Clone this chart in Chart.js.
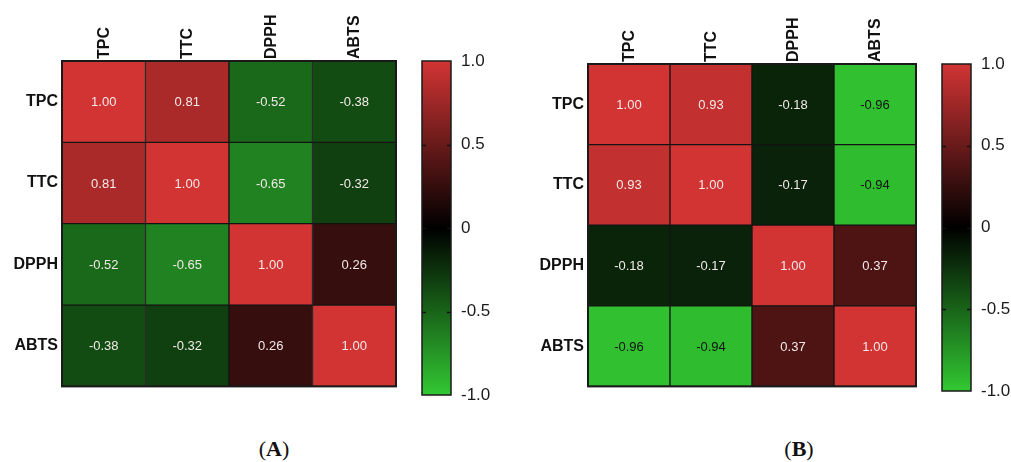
<!DOCTYPE html>
<html>
<head>
<meta charset="utf-8">
<script src="https://cdn.jsdelivr.net/npm/chart.js@4.4.1/dist/chart.umd.min.js"></script>
<style>
  html, body { margin: 0; padding: 0; background: #fff; }
  #wrap { position: relative; width: 1011px; height: 462px; overflow: hidden; }
  canvas { position: absolute; }
  .cap { position: absolute; top: 437px; width: 80px; text-align: center; line-height: 24px;
         font-family: "Liberation Serif", "DejaVu Serif", serif; font-size: 22px; color: #111; }
  .cap b { font-weight: bold; }
</style>
</head>
<body>
<div id="wrap">
  <canvas id="heatA" width="400" height="400" style="left:0;top:0"></canvas>
  <canvas id="barA" width="100" height="462" style="left:400px;top:0"></canvas>
  <canvas id="heatB" width="400" height="400" style="left:520px;top:0"></canvas>
  <canvas id="barB" width="91" height="462" style="left:920px;top:0"></canvas>
  <div class="cap" style="left:234px">(<b>A</b>)</div>
  <div class="cap" style="left:759px">(<b>B</b>)</div>
</div>
<script>
// ---- data ----
const variables = ["TPC", "TTC", "DPPH", "ABTS"];
// correlation matrix A (rows top->bottom, columns left->right)
const corrA_TPC  = [1.00, 0.81, -0.52, -0.38];
const corrA_TTC  = [0.81, 1.00, -0.65, -0.32];
const corrA_DPPH = [-0.52, -0.65, 1.00, 0.26];
const corrA_ABTS = [-0.38, -0.32, 0.26, 1.00];
// correlation matrix B
const corrB_TPC  = [1.00, 0.93, -0.18, -0.96];
const corrB_TTC  = [0.93, 1.00, -0.17, -0.94];
const corrB_DPPH = [-0.18, -0.17, 1.00, 0.37];
const corrB_ABTS = [-0.96, -0.94, 0.37, 1.00];
const colorbarTicks = [-1, -0.5, 0, 0.5, 1];
const colorbarTickLabels = ["-1.0", "-0.5", "0", "0.5", "1.0"];

// ---- colour map: green (-1) -> black (0) -> red (+1) ----
const RED = [210, 52, 52];
const GREEN = [50, 200, 50];
function corrColor(v) {
  const c = v >= 0 ? RED : GREEN;
  const a = Math.abs(v);
  return `rgb(${Math.round(c[0]*a)},${Math.round(c[1]*a)},${Math.round(c[2]*a)})`;
}
function textColor(v) {
  const c = v >= 0 ? RED : GREEN;
  const a = Math.abs(v);
  const lum = 0.299*c[0]*a + 0.587*c[1]*a + 0.114*c[2]*a;
  return lum > 125 ? '#111111' : '#f3e9e9';
}

const FONT = '"Liberation Sans", Arial, Helvetica, sans-serif';

const cellLabels = {
  id: 'cellLabels',
  afterDatasetsDraw(chart) {
    const ctx = chart.ctx;
    ctx.save();
    ctx.font = `13px ${FONT}`;
    ctx.textAlign = 'center';
    ctx.textBaseline = 'middle';
    chart.data.datasets.forEach((ds, d) => {
      const meta = chart.getDatasetMeta(d);
      meta.data.forEach((bar, i) => {
        const p = bar.getProps(['x', 'y', 'base'], true);
        const v = ds.corr[i];
        ctx.fillStyle = textColor(v);
        ctx.fillText(v.toFixed(2), p.x, (p.y + p.base) / 2 + 1);
      });
    });
    // outer frame
    const a = chart.chartArea;
    ctx.strokeStyle = '#1a1a1a';
    ctx.lineWidth = 2;
    ctx.strokeRect(a.left, a.top, a.right - a.left, a.bottom - a.top);
    ctx.restore();
  }
};

function makeHeatmap(id, rows, yWidth, xHeight, padRight, padBottom) {
  // datasets stack bottom-up, so the last row goes first
  const datasets = rows.map((r, idx) => ({
    label: variables[idx],
    corr: r,
    data: r.map(() => 1),
    backgroundColor: r.map(corrColor),
    borderColor: '#141414',
    borderWidth: 1,
    borderSkipped: false,
    barPercentage: 1,
    categoryPercentage: 1
  })).reverse();
  new Chart(document.getElementById(id), {
    type: 'bar',
    data: { labels: variables, datasets },
    plugins: [cellLabels],
    options: {
      responsive: false,
      animation: false,
      layout: { padding: { left: 0, top: 0, right: padRight, bottom: padBottom } },
      plugins: { legend: { display: false }, tooltip: { enabled: false } },
      scales: {
        x: {
          position: 'top',
          stacked: true,
          grid: { display: false, drawTicks: false },
          border: { display: false },
          ticks: {
            autoSkip: false, minRotation: 90, maxRotation: 90, padding: 2,
            labelOffset: 20,
            color: '#111', font: { family: FONT, size: 16, weight: 'bold' }
          },
          afterFit(s) { s.height = xHeight; }
        },
        y: {
          stacked: true,
          min: 0, max: 4,
          grid: { display: false, drawTicks: false },
          border: { display: false },
          afterBuildTicks(s) {
            s.ticks = variables.map((_, i) => ({ value: i + 0.5 }));
          },
          ticks: {
            padding: 4,
            color: '#111', font: { family: FONT, size: 16, weight: 'bold' },
            callback(v) { return variables[variables.length - 1 - Math.floor(v)]; }
          },
          afterFit(s) { s.width = yWidth; }
        }
      }
    }
  });
}

const barDecor = {
  id: 'barDecor',
  afterDatasetsDraw(chart) {
    const ctx = chart.ctx, a = chart.chartArea, ys = chart.scales.y;
    ctx.save();
    ctx.strokeStyle = '#111';
    ctx.lineWidth = 1.5;
    colorbarTicks.forEach(t => {
      if (Math.abs(t) === 1) return;
      const y = Math.round(ys.getPixelForValue(t)) + 0.5;
      ctx.beginPath();
      ctx.moveTo(a.left, y); ctx.lineTo(a.left + 4, y);
      ctx.moveTo(a.right - 4, y); ctx.lineTo(a.right, y);
      ctx.stroke();
    });
    ctx.strokeStyle = '#1a1a1a';
    ctx.lineWidth = 1.5;
    ctx.strokeRect(a.left, a.top, a.right - a.left, a.bottom - a.top);
    ctx.restore();
  }
};

function makeColorbar(id, padLeft, padTop, padBottom, yWidth) {
  new Chart(document.getElementById(id), {
    type: 'bar',
    data: {
      labels: ['r'],
      datasets: [{
        data: [[colorbarTicks[0], colorbarTicks[colorbarTicks.length - 1]]],
        barPercentage: 1, categoryPercentage: 1,
        borderSkipped: false, borderWidth: 0,
        backgroundColor(ctx) {
          const a = ctx.chart.chartArea;
          if (!a) return '#000';
          const g = ctx.chart.ctx.createLinearGradient(0, a.bottom, 0, a.top);
          g.addColorStop(0, corrColor(-1));
          g.addColorStop(0.5, corrColor(0));
          g.addColorStop(1, corrColor(1));
          return g;
        }
      }]
    },
    plugins: [barDecor],
    options: {
      responsive: false,
      animation: false,
      layout: { padding: { left: padLeft, top: padTop, bottom: padBottom, right: 0 } },
      plugins: { legend: { display: false }, tooltip: { enabled: false } },
      scales: {
        x: { display: false },
        y: {
          position: 'right',
          min: -1, max: 1,
          grid: { display: false, drawTicks: false },
          border: { display: false },
          afterBuildTicks(s) { s.ticks = colorbarTicks.map(v => ({ value: v })); },
          ticks: {
            padding: 10, color: '#1a1a1a',
            font: { family: FONT, size: 17 },
            callback(v) { return colorbarTickLabels[colorbarTicks.indexOf(v)]; }
          },
          afterFit(s) { s.width = yWidth; }
        }
      }
    }
  });
}

makeHeatmap('heatA', [corrA_TPC, corrA_TTC, corrA_DPPH, corrA_ABTS], 62, 61, 4, 4);
makeHeatmap('heatB', [corrB_TPC, corrB_TTC, corrB_DPPH, corrB_ABTS], 68, 64, 4, 8);
makeColorbar('barA', 22, 61, 67, 49);
makeColorbar('barB', 22, 64, 71, 40);
</script>
</body>
</html>
